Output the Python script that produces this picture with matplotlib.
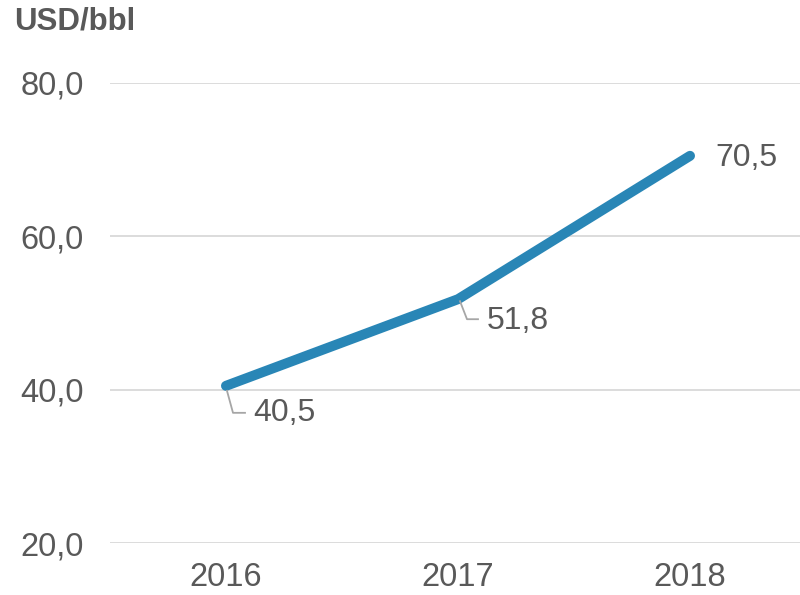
import matplotlib.pyplot as plt
import matplotlib.transforms as mtransforms

plt.rcParams['font.family'] = ['Liberation Sans', 'DejaVu Sans']

years = ['2016', '2017', '2018']
price = [40.5, 51.8, 70.5]
labels = ['40,5', '51,8', '70,5']
yticks = [20, 40, 60, 80]

text_col = '#595959'
line_col = '#2986B6'

fig = plt.figure(figsize=(8, 5.95), dpi=100)
ax = fig.add_axes([110 / 800, 1 - 543 / 595, 696 / 800, 460 / 595])

x = list(range(len(years)))
ax.plot(x, price, color=line_col, lw=7.2, solid_capstyle='round', solid_joinstyle='round', zorder=3)

ax.set_xlim(-0.5, 2.5)
ax.set_ylim(20, 80)
ax.set_yticks(yticks)
ax.set_yticklabels([f'{v:.1f}'.replace('.', ',') for v in yticks])
ax.set_xticks(x)
ax.set_xticklabels(years)
ax.grid(axis='y', color='#D9D9D9', lw=1.3)
ax.set_axisbelow(True)
for s in ax.spines.values():
    s.set_visible(False)
ax.tick_params(length=0, labelsize=23.5, colors=text_col)
ax.tick_params(axis='y', pad=19)
ax.tick_params(axis='x', pad=14)


def px(dx, dy):
    # offset in pixels from a data point (dy positive = down)
    return ax.transData + mtransforms.ScaledTranslation(dx / 100, -dy / 100, fig.dpi_scale_trans)


# leader lines: (start dx, dy), (bend dx, dy), (end dx, dy) -- pixels
leaders = {0: [(1, 5), (7, 27), (19, 27)], 1: [(2, 2), (9, 20), (20, 20)]}
label_off = [(27, 27), (29, 22), (25, 2)]
for i in range(len(years)):
    if i in leaders:
        pts = [px(dx, dy).transform((x[i], price[i])) for dx, dy in leaders[i]]
        fig.add_artist(plt.Line2D([p[0] / 800 for p in pts], [p[1] / 595 for p in pts],
                                  transform=fig.transFigure, color='#A6A6A6', lw=1.3))
    ox, oy = label_off[i]
    ax.annotate(labels[i], (x[i], price[i]), xytext=(ox * 0.72, -oy * 0.72),
                textcoords='offset points', ha='left', va='center',
                fontsize=23, color=text_col)

fig.text(14 / 800, 1 - 21 / 595, 'USD/bbl', fontsize=22.5, fontweight='bold',
         color=text_col, ha='left', va='center')

fig.savefig('out.png', dpi=100)
